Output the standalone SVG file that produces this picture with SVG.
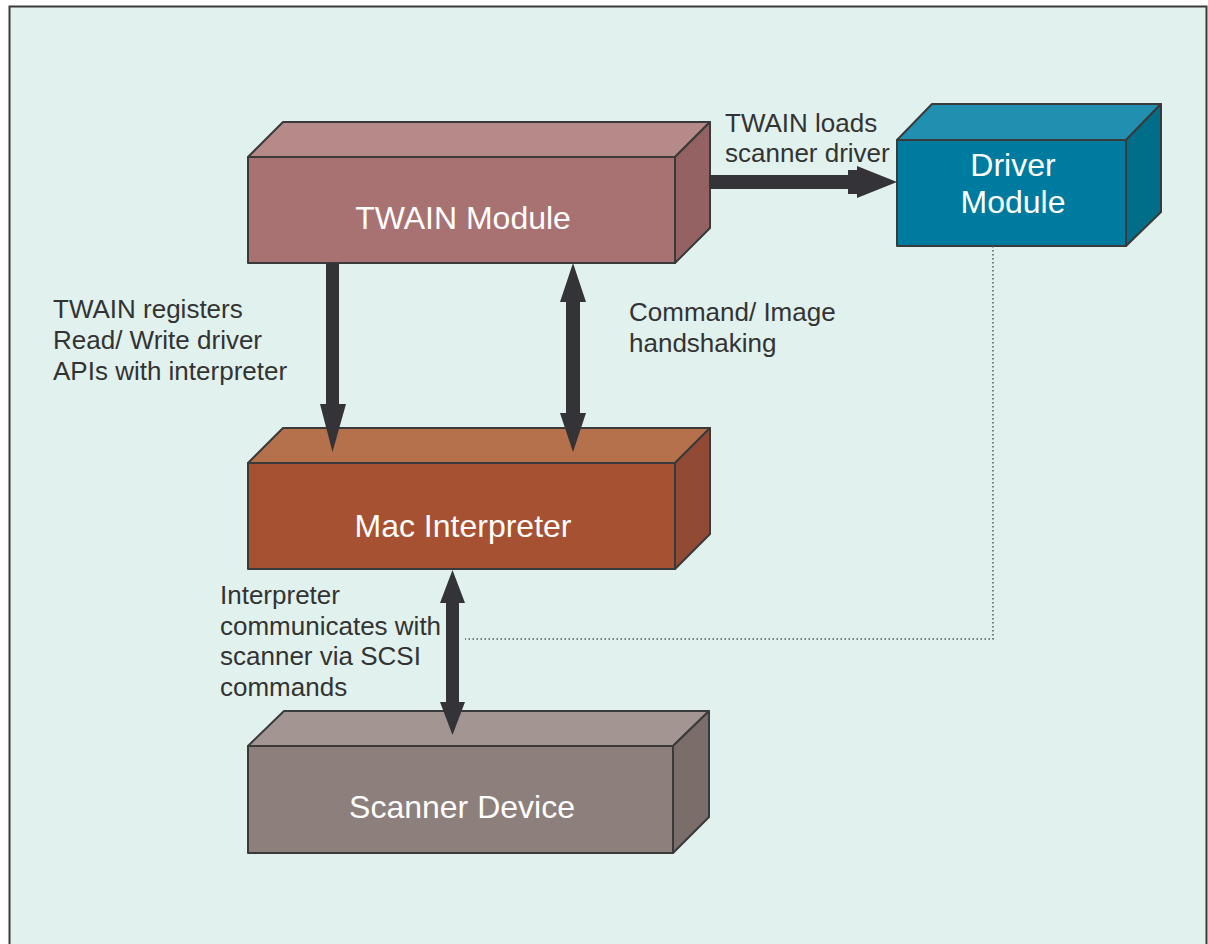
<svg xmlns="http://www.w3.org/2000/svg" width="1208" height="944" viewBox="0 0 1208 944">
<style>
.edge{stroke:#3a3a3a;stroke-width:2;stroke-linejoin:round}
.lbl{font-family:"Liberation Sans",Arial,sans-serif;font-size:26px;fill:#333333}
.ttl{font-family:"Liberation Sans",Arial,sans-serif;font-size:32px;fill:#ffffff;text-anchor:middle}
.arr{fill:#333338;stroke:none}
</style>
<rect x="0" y="0" width="1208" height="944" fill="#ffffff"/>
<rect x="9.5" y="6.5" width="1197" height="950" fill="#e1f1ee" stroke="#3a3a3a" stroke-width="2"/>
<g id="twain-module">
<polygon class="edge" points="248,157 283,122 710,122 675,157" fill="#b68a88"/>
<polygon class="edge" points="675,157 710,122 710,228 675,263" fill="#946262"/>
<rect class="edge" x="248" y="157" width="427" height="106" fill="#a87272"/>
<text class="ttl" x="463" y="229">TWAIN Module</text>
</g>
<g id="driver-module">
<polygon class="edge" points="897,140 932,104 1161,104 1126,140" fill="#2190b0"/>
<polygon class="edge" points="1126,140 1161,104 1161,212 1126,246" fill="#006e88"/>
<rect class="edge" x="897" y="140" width="229" height="106" fill="#007ba0"/>
<text class="ttl" x="1013" y="176">Driver</text>
<text class="ttl" x="1013" y="213">Module</text>
</g>
<g id="mac-interpreter">
<polygon class="edge" points="248,463 283,428 710,428 675,463" fill="#b5714b"/>
<polygon class="edge" points="675,463 710,428 710,534 675,569" fill="#914a33"/>
<rect class="edge" x="248" y="463" width="427" height="106" fill="#a65132"/>
<text class="ttl" x="463" y="537">Mac Interpreter</text>
</g>
<g id="scanner-device">
<polygon class="edge" points="248,746 284,711 709,711 673,746" fill="#a39591"/>
<polygon class="edge" points="673,746 709,711 709,817 673,853" fill="#7b6e6a"/>
<rect class="edge" x="248" y="746" width="425" height="107" fill="#8d807c"/>
<text class="ttl" x="462" y="818">Scanner Device</text>
</g>
<g id="labels">
<text class="lbl" x="725" y="132">TWAIN loads</text>
<text class="lbl" x="725" y="162">scanner driver</text>
<text class="lbl" x="53" y="318">TWAIN registers</text>
<text class="lbl" x="53" y="349">Read/ Write driver</text>
<text class="lbl" x="53" y="380">APIs with interpreter</text>
<text class="lbl" x="629" y="321">Command/ Image</text>
<text class="lbl" x="629" y="352">handshaking</text>
<text class="lbl" x="220" y="604">Interpreter</text>
<text class="lbl" x="220" y="635">communicates with</text>
<text class="lbl" x="220" y="665">scanner via SCSI</text>
<text class="lbl" x="220" y="696">commands</text>
</g>
<g id="connectors">
<path d="M993 246 V639 H465" fill="none" stroke="#555555" stroke-width="1.5" stroke-dasharray="1.5,2.5"/>
<polygon class="arr" points="709,175 848,175 848,170 857,170 857,166 897,182 857,198 857,194 848,194 848,189 709,189"/>
<polygon class="arr" points="326,263 339,263 339,404 346,404 332.5,452 320,404 326,404"/>
<polygon class="arr" points="573,263 586,302 580,302 580,413 586,413 573,452 560,413 566,413 566,302 560,302"/>
<polygon class="arr" points="452.5,570 465,603 459,603 459,702 465,702 452.5,735 440,702 446,702 446,603 440,603"/>
</g>
</svg>
